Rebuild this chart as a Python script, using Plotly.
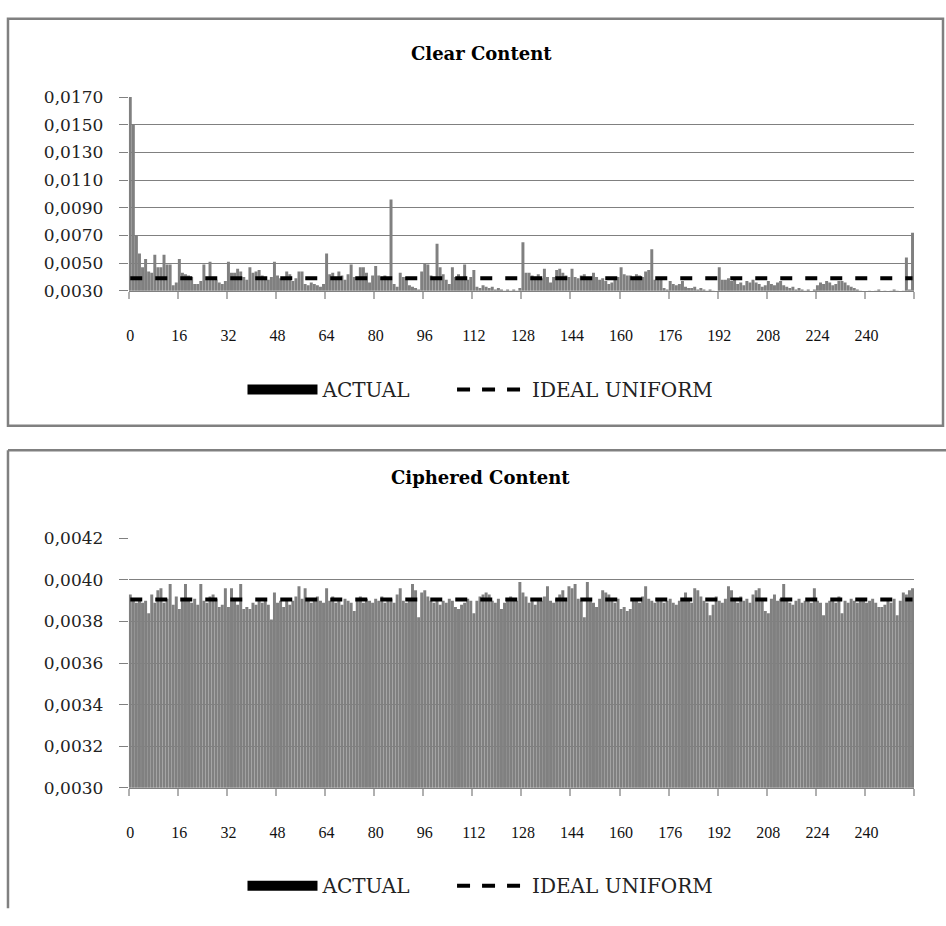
import plotly.graph_objects as go

W, H = 946, 926

# ---------------- data ----------------
byte_values = list(range(256))
tick_labels = [str(v) for v in range(0, 256, 16)]

clear_content = [
    0.0170, 0.0150, 0.0070, 0.0057, 0.0047, 0.0053, 0.0044, 0.0043, 0.0056, 0.0047, 0.0047, 0.0056, 0.0049, 0.0049, 0.0034, 0.0036,
    0.0053, 0.0043, 0.0042, 0.0041, 0.0040, 0.0035, 0.0035, 0.0037, 0.0049, 0.0038, 0.0051, 0.0040, 0.0038, 0.0036, 0.0035, 0.0037,
    0.0051, 0.0043, 0.0043, 0.0046, 0.0044, 0.0040, 0.0038, 0.0047, 0.0043, 0.0044, 0.0045, 0.0041, 0.0039, 0.0038, 0.0040, 0.0051,
    0.0041, 0.0039, 0.0038, 0.0044, 0.0042, 0.0037, 0.0039, 0.0044, 0.0044, 0.0035, 0.0034, 0.0036, 0.0035, 0.0034, 0.0033, 0.0035,
    0.0057, 0.0042, 0.0043, 0.0040, 0.0044, 0.0041, 0.0038, 0.0042, 0.0049, 0.0040, 0.0038, 0.0047, 0.0047, 0.0043, 0.0036, 0.0041,
    0.0048, 0.0041, 0.0040, 0.0041, 0.0040, 0.0096, 0.0035, 0.0033, 0.0043, 0.0040, 0.0040, 0.0034, 0.0033, 0.0032, 0.0031, 0.0044,
    0.0050, 0.0049, 0.0041, 0.0040, 0.0064, 0.0047, 0.0042, 0.0038, 0.0035, 0.0047, 0.0040, 0.0042, 0.0040, 0.0049, 0.0038, 0.0040,
    0.0045, 0.0033, 0.0032, 0.0034, 0.0033, 0.0032, 0.0033, 0.0031, 0.0032, 0.0031, 0.0030, 0.0031, 0.0030, 0.0031, 0.0030, 0.0032,
    0.0065, 0.0043, 0.0043, 0.0041, 0.0040, 0.0042, 0.0039, 0.0046, 0.0040, 0.0036, 0.0040, 0.0045, 0.0046, 0.0043, 0.0041, 0.0040,
    0.0046, 0.0040, 0.0039, 0.0041, 0.0042, 0.0039, 0.0040, 0.0043, 0.0040, 0.0038, 0.0039, 0.0037, 0.0035, 0.0036, 0.0038, 0.0040,
    0.0047, 0.0042, 0.0041, 0.0041, 0.0040, 0.0042, 0.0041, 0.0040, 0.0044, 0.0045, 0.0060, 0.0038, 0.0038, 0.0039, 0.0032, 0.0031,
    0.0037, 0.0035, 0.0034, 0.0035, 0.0037, 0.0033, 0.0032, 0.0032, 0.0033, 0.0031, 0.0032, 0.0031, 0.0030, 0.0031, 0.0030, 0.0029,
    0.0047, 0.0038, 0.0038, 0.0039, 0.0037, 0.0038, 0.0035, 0.0036, 0.0034, 0.0037, 0.0036, 0.0038, 0.0036, 0.0035, 0.0033, 0.0034,
    0.0037, 0.0035, 0.0034, 0.0036, 0.0037, 0.0034, 0.0033, 0.0032, 0.0033, 0.0031, 0.0032, 0.0031, 0.0030, 0.0031, 0.0029, 0.0031,
    0.0034, 0.0036, 0.0035, 0.0037, 0.0036, 0.0034, 0.0035, 0.0037, 0.0037, 0.0036, 0.0034, 0.0033, 0.0032, 0.0031, 0.0030, 0.0029,
    0.0029, 0.0030, 0.0029, 0.0030, 0.0031, 0.0029, 0.0030, 0.0029, 0.0030, 0.0031, 0.0030, 0.0029, 0.0030, 0.0054, 0.0031, 0.0072,
]

ciphered_content = [
    0.00393, 0.00391, 0.00389, 0.00390, 0.00389, 0.00390, 0.00384, 0.00393, 0.00389, 0.00395, 0.00396, 0.00389, 0.00391, 0.00398, 0.00388, 0.00392,
    0.00386, 0.00390, 0.00398, 0.00390, 0.00389, 0.00391, 0.00388, 0.00398, 0.00390, 0.00389, 0.00392, 0.00393, 0.00391, 0.00387, 0.00388, 0.00396,
    0.00387, 0.00396, 0.00390, 0.00388, 0.00398, 0.00386, 0.00387, 0.00386, 0.00389, 0.00388, 0.00391, 0.00389, 0.00390, 0.00388, 0.00381, 0.00394,
    0.00389, 0.00390, 0.00387, 0.00391, 0.00388, 0.00390, 0.00392, 0.00397, 0.00391, 0.00396, 0.00390, 0.00389, 0.00391, 0.00392, 0.00390, 0.00389,
    0.00396, 0.00390, 0.00392, 0.00389, 0.00390, 0.00388, 0.00391, 0.00390, 0.00389, 0.00385, 0.00390, 0.00392, 0.00389, 0.00391, 0.00390, 0.00389,
    0.00391, 0.00390, 0.00392, 0.00389, 0.00390, 0.00391, 0.00389, 0.00393, 0.00396, 0.00390, 0.00389, 0.00391, 0.00398, 0.00395, 0.00382, 0.00394,
    0.00395, 0.00392, 0.00390, 0.00389, 0.00391, 0.00388, 0.00390, 0.00389, 0.00391, 0.00390, 0.00387, 0.00386, 0.00388, 0.00389, 0.00391, 0.00390,
    0.00384, 0.00390, 0.00392, 0.00393, 0.00394, 0.00393, 0.00390, 0.00389, 0.00391, 0.00386, 0.00389, 0.00390, 0.00392, 0.00391, 0.00390, 0.00399,
    0.00394, 0.00392, 0.00389, 0.00390, 0.00388, 0.00391, 0.00390, 0.00392, 0.00397, 0.00390, 0.00389, 0.00391, 0.00393, 0.00395, 0.00390, 0.00397,
    0.00396, 0.00398, 0.00391, 0.00390, 0.00382, 0.00399, 0.00390, 0.00389, 0.00387, 0.00391, 0.00395, 0.00394, 0.00393, 0.00390, 0.00389, 0.00391,
    0.00386, 0.00387, 0.00385, 0.00386, 0.00390, 0.00391, 0.00389, 0.00392, 0.00397, 0.00391, 0.00390, 0.00389, 0.00390, 0.00391, 0.00389, 0.00390,
    0.00391, 0.00389, 0.00388, 0.00390, 0.00391, 0.00394, 0.00390, 0.00389, 0.00396, 0.00395, 0.00392, 0.00390, 0.00389, 0.00383, 0.00388, 0.00392,
    0.00390, 0.00389, 0.00391, 0.00397, 0.00395, 0.00390, 0.00389, 0.00392, 0.00390, 0.00391, 0.00389, 0.00393, 0.00395, 0.00396, 0.00390, 0.00385,
    0.00384, 0.00391, 0.00393, 0.00390, 0.00391, 0.00398, 0.00390, 0.00389, 0.00388, 0.00390, 0.00391, 0.00389, 0.00390, 0.00391, 0.00389, 0.00396,
    0.00390, 0.00389, 0.00383, 0.00389, 0.00390, 0.00391, 0.00389, 0.00392, 0.00384, 0.00390, 0.00389, 0.00391, 0.00390, 0.00389, 0.00390, 0.00391,
    0.00389, 0.00390, 0.00391, 0.00389, 0.00387, 0.00387, 0.00388, 0.00390, 0.00389, 0.00391, 0.00383, 0.00390, 0.00394, 0.00393, 0.00395, 0.00396,
]

ideal_uniform_value = 0.00390625  # 1/256
ideal_uniform = [ideal_uniform_value] * len(byte_values)

panel_titles = ["Clear Content", "Ciphered Content"]
legend_names = ["ACTUAL", "IDEAL UNIFORM"]

# ---------------- styling helpers ----------------
def px(x):
    return x / W

def py(y):
    return 1 - y / H

GRAY = "#808080"
SERIF = "DejaVu Serif"
TIMES = "Liberation Serif"

fig = go.Figure()

panels = [
    dict(vals=clear_content, x="x", y="y", legs=("legend", "legend2"),
         rng=[0.0030, 0.0170], dtick=0.0020),
    dict(vals=ciphered_content, x="x2", y="y2", legs=("legend3", "legend4"),
         rng=[0.0030, 0.0042], dtick=0.0002),
]

for p in panels:
    fig.add_trace(go.Bar(
        x=byte_values, y=p["vals"], xaxis=p["x"], yaxis=p["y"],
        marker=dict(color=GRAY, line=dict(width=0)),
        showlegend=False, name=legend_names[0],
    ))
    fig.add_trace(go.Scatter(
        x=byte_values, y=ideal_uniform, xaxis=p["x"], yaxis=p["y"],
        mode="lines", line=dict(color="black", width=4, dash="12px,13px"),
        showlegend=False, name=legend_names[1],
    ))
    # legend entries
    fig.add_trace(go.Scatter(
        x=[None], y=[None], xaxis=p["x"], yaxis=p["y"], mode="lines",
        line=dict(color="black", width=11), name=legend_names[0], legend=p["legs"][0],
    ))
    fig.add_trace(go.Scatter(
        x=[None], y=[None], xaxis=p["x"], yaxis=p["y"], mode="lines",
        line=dict(color="black", width=4, dash="13px,12px"), name=legend_names[1], legend=p["legs"][1],
    ))

boundaries = [v - 0.5 for v in range(0, 257, 16)]

def xaxis_cfg(domain_anchor):
    return dict(
        domain=[px(127), px(914)], anchor=domain_anchor,
        range=[-0.5, 255.5], tickmode="array",
        tickvals=list(range(0, 256, 16)), ticktext=tick_labels,
        ticks="", showgrid=False, zeroline=False,
        showline=True, linecolor=GRAY, linewidth=1,
        tickfont=dict(family=TIMES, size=16, color="#111"),
        ticklabelstandoff=30,
        minor=dict(tickmode="array", tickvals=boundaries, ticks="outside",
                   ticklen=7, tickcolor="#b0b0b0", tickwidth=2, showgrid=False),
    )

def yaxis_cfg(domain, rng, dtick, anchor):
    return dict(
        domain=domain, anchor=anchor, range=rng, tick0=0.0030, dtick=dtick,
        tickformat=".4f", ticks="outside", ticklen=9, tickcolor=GRAY,
        showgrid=True, gridcolor=GRAY, gridwidth=1, zeroline=False, showline=False,
        tickfont=dict(family=SERIF, size=17, color="#222"),
        ticklabelstandoff=12,
    )

legend_common = dict(
    orientation="h", xanchor="left", yanchor="middle",
    font=dict(family=SERIF, size=20, color="#222"), itemwidth=70,
    bgcolor="rgba(0,0,0,0)", tracegroupgap=0,
)

fig.update_layout(
    width=W, height=H, margin=dict(l=0, r=0, t=0, b=0),
    paper_bgcolor="white", plot_bgcolor="white",
    separators=",.",
    bargap=0.03,
    xaxis=xaxis_cfg("y"),
    yaxis=yaxis_cfg([py(287), py(89)], panels[0]["rng"], panels[0]["dtick"], "x"),
    xaxis2=xaxis_cfg("y2"),
    yaxis2=yaxis_cfg([py(795), py(540)], panels[1]["rng"], panels[1]["dtick"], "x2"),
    legend=dict(x=px(241), y=py(388), **legend_common),
    legend2=dict(x=px(451), y=py(388), **legend_common),
    legend3=dict(x=px(241), y=py(895), **legend_common),
    legend4=dict(x=px(451), y=py(895), **legend_common),
    annotations=[
        dict(text=panel_titles[0], x=px(481), y=py(44), xref="paper", yref="paper",
             xanchor="center", yanchor="middle", showarrow=False,
             font=dict(family=SERIF, size=18, color="black", weight="bold")),
        dict(text=panel_titles[1], x=px(480), y=py(478), xref="paper", yref="paper",
             xanchor="center", yanchor="middle", showarrow=False,
             font=dict(family=SERIF, size=18, color="black", weight="bold")),
    ],
    shapes=[
        dict(type="rect", xref="paper", yref="paper", x0=px(6), x1=px(943), y0=py(425), y1=py(9),
             line=dict(color=GRAY, width=2.5)),
        dict(type="line", xref="paper", yref="paper", x0=px(6), x1=px(946), y0=py(450), y1=py(450),
             line=dict(color=GRAY, width=2.5)),
        dict(type="line", xref="paper", yref="paper", x0=px(6), x1=px(6), y0=py(450), y1=py(918),
             line=dict(color=GRAY, width=2.5)),
    ],
)

fig.write_html("out.html")
